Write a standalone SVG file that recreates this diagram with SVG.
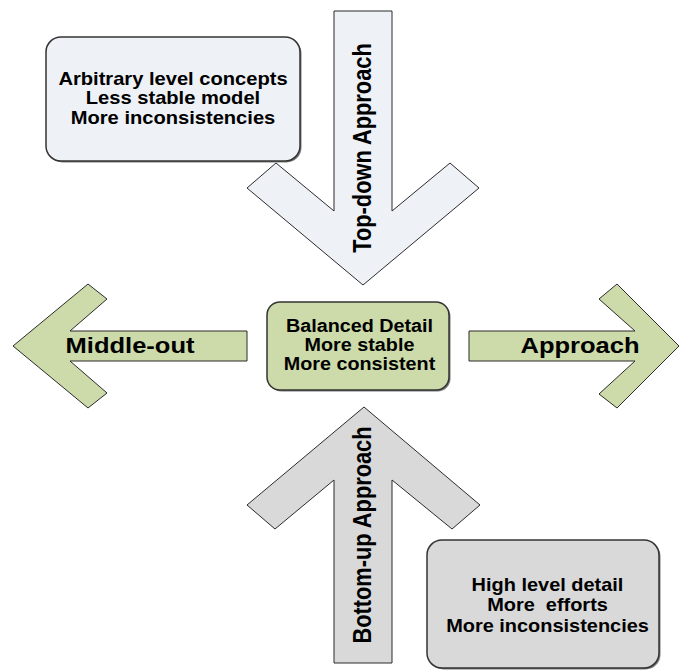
<svg xmlns="http://www.w3.org/2000/svg" width="679" height="670" viewBox="0 0 679 670">
<style>
  .arrow { stroke: #2b2b2b; stroke-width: 1; stroke-linejoin: miter; }
  .box { stroke: #333333; stroke-width: 1.5; }
  .shadow { fill: #7a7a7a; }
  .light { fill: #EEF1F6; }
  .green { fill: #CCDBA9; }
  .gray { fill: #D9D9D9; }
  .t { font-family: "Liberation Sans", Arial, sans-serif; font-weight: bold; fill: #000; text-anchor: middle; }
  .bt { font-size: 17.5px; }
  .at { font-size: 22px; }
  .vt { font-size: 21.8px; }
</style>
<rect width="679" height="670" fill="#ffffff"/>

<g id="top-down-arrow">
  <polygon class="arrow light" points="334,11 392,11 392,211 450,163 479,188 363,285 247,188 276,163 334,211"/>
  <text class="t vt" transform="translate(371,148) scale(1.15,1) rotate(-90)" x="0" y="0">Top-down Approach</text>
</g>

<g id="bottom-up-arrow">
  <polygon class="arrow gray" points="364,407 480,505 452,529 392,480 392,663 334,663 334,480 275,529 247,505"/>
  <text class="t vt" transform="translate(371,535) scale(1.15,1) rotate(-90)" x="0" y="0">Bottom-up Approach</text>
</g>

<g id="middle-out-arrow">
  <polygon class="arrow green" points="13,346 88,284 107,299 70,331 247,331 247,361 70,361 107,393 88,408"/>
  <text class="t at" transform="translate(130,353) scale(1.16,1)" x="0" y="0">Middle-out</text>
</g>

<g id="approach-arrow">
  <polygon class="arrow green" points="469,331 635,331 599,299 617,284 679,346 617,408 599,394 635,361 469,361"/>
  <text class="t at" transform="translate(580,353) scale(1.16,1)" x="0" y="0">Approach</text>
</g>

<g id="top-down-box">
  <rect class="shadow" x="47.5" y="38.5" width="254" height="124" rx="15" ry="15"/>
  <rect class="box light" x="46" y="37" width="254" height="124" rx="15" ry="15"/>
  <g transform="translate(173,0) scale(1.15,1)">
    <text class="t bt" x="0" y="85">Arbitrary level concepts</text>
    <text class="t bt" x="0" y="104.5">Less stable model</text>
    <text class="t bt" x="0" y="124">More inconsistencies</text>
  </g>
</g>

<g id="middle-box">
  <rect class="shadow" x="268.5" y="303.5" width="182" height="88" rx="13" ry="13"/>
  <rect class="box green" x="267" y="302" width="182" height="88" rx="13" ry="13"/>
  <g transform="translate(359.5,0) scale(1.13,1)">
    <text class="t bt" x="0" y="332">Balanced Detail</text>
    <text class="t bt" x="0" y="351">More stable</text>
    <text class="t bt" x="0" y="370">More consistent</text>
  </g>
</g>

<g id="bottom-up-box">
  <rect class="shadow" x="428.5" y="541.5" width="232" height="128" rx="15" ry="15"/>
  <rect class="box gray" x="427" y="540" width="232" height="128" rx="15" ry="15"/>
  <g transform="translate(547.5,0) scale(1.14,1)">
    <text class="t bt" x="0" y="591">High level detail</text>
    <text class="t bt" x="0" y="611.5" xml:space="preserve">More  efforts</text>
    <text class="t bt" x="0" y="632">More inconsistencies</text>
  </g>
</g>

<g id="connectors"/>
</svg>
